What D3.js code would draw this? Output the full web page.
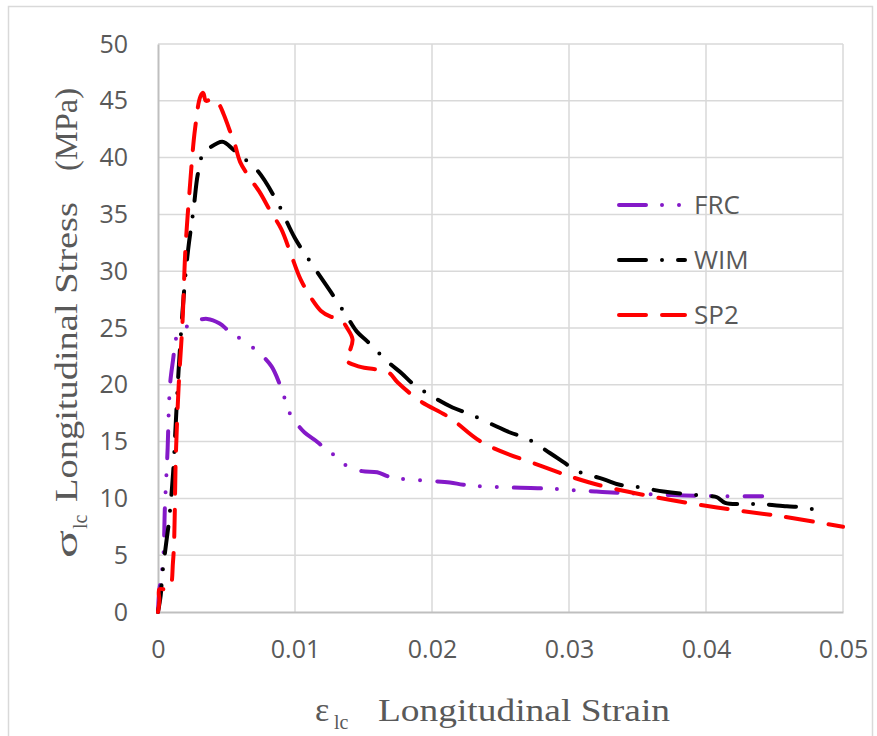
<!DOCTYPE html>
<html>
<head>
<meta charset="utf-8">
<script src="https://cdn.jsdelivr.net/npm/d3@7"></script>
<style>
  body { margin: 0; background: #fff; }
  svg { display: block; }
</style>
</head>
<body>
<div id="chart"></div>
<script>
// values (strain, stress in MPa)
const frcStrain = [0, 0.0001, 0.0002, 0.0004, 0.0005, 0.0007, 0.0008, 0.0009, 0.0011, 0.0013, 0.0015, 0.0022, 0.0027, 0.0036, 0.0045, 0.0052, 0.0062, 0.0074, 0.0083, 0.0089, 0.0092, 0.0094, 0.01, 0.0107, 0.0115, 0.012, 0.0127, 0.0131, 0.014, 0.0149, 0.016, 0.0169, 0.018, 0.0213, 0.0223, 0.0247, 0.0277, 0.0294, 0.0306, 0.032, 0.0335, 0.0374, 0.0408, 0.042, 0.0441];
const frcStress = [0, 2.0, 2.7, 5.1, 9.1, 14.3, 18.2, 20.3, 22.2, 24.0, 24.6, 25.2, 25.6, 25.8, 25.4, 24.7, 23.9, 22.8, 21.6, 20.0, 19.0, 18.0, 16.8, 15.8, 15.1, 14.6, 14.0, 13.3, 12.8, 12.4, 12.3, 11.9, 11.7, 11.4, 11.2, 11.0, 10.9, 10.8, 10.7, 10.6, 10.5, 10.3, 10.2, 10.2, 10.2];

const wimStrain = [0, 0.0002, 0.0003, 0.0006, 0.0008, 0.0011, 0.0013, 0.0015, 0.0019, 0.0022, 0.0026, 0.0029, 0.0033, 0.0037, 0.0047, 0.0055, 0.0062, 0.0073, 0.0087, 0.01, 0.0113, 0.0126, 0.0138, 0.0145, 0.0153, 0.0168, 0.0178, 0.0186, 0.0204, 0.0215, 0.0228, 0.0246, 0.0257, 0.0269, 0.0286, 0.0296, 0.0306, 0.0325, 0.0337, 0.035, 0.0369, 0.0383, 0.0403, 0.0408, 0.0414, 0.0427, 0.044, 0.0459, 0.0472, 0.0482];
const wimStress = [0, 1.5, 3.1, 6.1, 8.0, 12.2, 16.7, 21.2, 28.2, 31.9, 35.5, 38.5, 40.4, 40.8, 41.4, 40.7, 40.0, 38.8, 36.1, 32.9, 30.5, 28.2, 26.0, 24.7, 23.8, 22.0, 21.0, 20.1, 18.7, 18.0, 17.4, 16.4, 15.8, 15.3, 14.0, 13.2, 12.4, 11.7, 11.2, 11.0, 10.6, 10.4, 10.2, 10.1, 9.6, 9.5, 9.5, 9.3, 9.2, 8.9];

const sp2Strain = [0, 0.0001, 0.0001, 0.0008, 0.0011, 0.0013, 0.0015, 0.0018, 0.002, 0.0023, 0.0027, 0.0031, 0.0033, 0.0035, 0.004, 0.0044, 0.0048, 0.0052, 0.0056, 0.006, 0.0067, 0.0074, 0.0082, 0.009, 0.0097, 0.0104, 0.0112, 0.0119, 0.0126, 0.0133, 0.0138, 0.0142, 0.014, 0.0137, 0.0147, 0.0168, 0.0175, 0.0191, 0.0213, 0.0237, 0.0281, 0.0315, 0.0359, 0.0408, 0.0456, 0.05];
const sp2Stress = [0, 1.0, 2.0, 2.0, 4.5, 13.7, 19.7, 25.8, 31.9, 37.0, 42.5, 45.4, 45.7, 45.0, 45.2, 44.8, 43.8, 42.5, 41.2, 39.6, 38.2, 37.0, 35.3, 33.7, 31.5, 29.3, 27.6, 26.5, 26.0, 25.8, 25.0, 24.0, 23.0, 22.2, 21.6, 21.1, 20.2, 18.6, 17.1, 14.9, 12.8, 11.4, 10.2, 9.2, 8.4, 7.5];

const seriesNames = ["FRC", "WIM", "SP2"];
const xTicks = [0, 0.01, 0.02, 0.03, 0.04, 0.05];
const yTicks = [0, 5, 10, 15, 20, 25, 30, 35, 40, 45, 50];

const W = 877, H = 736;
const plot = { left: 158, right: 843, top: 44, bottom: 612 };

const svg = d3.select("#chart").append("svg")
    .attr("width", W)
    .attr("height", H);

// chart area border
svg.append("rect")
    .attr("x", 8.5).attr("y", 6.5)
    .attr("width", 864).attr("height", 740)
    .attr("fill", "none").attr("stroke", "#d9d9d9").attr("stroke-width", 1.5);

const x = d3.scaleLinear().domain([0, 0.05]).range([plot.left, plot.right]);
const y = d3.scaleLinear().domain([0, 50]).range([plot.bottom, plot.top]);

// gridlines
svg.append("g").selectAll("line.hg")
    .data(yTicks.filter(d => d > 0)).enter().append("line")
    .attr("x1", plot.left).attr("x2", plot.right)
    .attr("y1", d => y(d)).attr("y2", d => y(d))
    .attr("stroke", "#d9d9d9").attr("stroke-width", 1.5);

svg.append("g").selectAll("line.vg")
    .data(xTicks.filter(d => d > 0)).enter().append("line")
    .attr("x1", d => x(d)).attr("x2", d => x(d))
    .attr("y1", plot.top).attr("y2", plot.bottom)
    .attr("stroke", "#d9d9d9").attr("stroke-width", 1.5);

// axes (Excel style: no ticks, grey axis line)
const xAxis = svg.append("g")
    .attr("transform", `translate(0,${plot.bottom})`)
    .call(d3.axisBottom(x).tickValues(xTicks).tickSize(0).tickPadding(28)
        .tickFormat(d => d === 0 ? "0" : d3.format(".2f")(d)));
const yAxis = svg.append("g")
    .attr("transform", `translate(${plot.left},0)`)
    .call(d3.axisLeft(y).tickValues(yTicks).tickSize(0).tickPadding(30));

[xAxis, yAxis].forEach(g => {
    g.select(".domain").attr("stroke", "#bfbfbf").attr("stroke-width", 2);
    g.selectAll("text")
        .style("font-family", "'Open Sans', sans-serif")
        .style("font-size", "25px")
        .attr("fill", "#595959");
});

// series
const series = [
    { name: seriesNames[0], strain: frcStrain, stress: frcStress, color: "#8419c8", dash: "27,16,0,17,0,17" },
    { name: seriesNames[1], strain: wimStrain, stress: wimStress, color: "#000000", dash: "27,16,0,16" },
    { name: seriesNames[2], strain: sp2Strain, stress: sp2Stress, color: "#ff0000", dash: "27,16" }
];

const line = d3.line()
    .x(d => x(d[0]))
    .y(d => y(d[1]))
    .curve(d3.curveCatmullRom.alpha(0.5));

svg.append("g").selectAll("path.series")
    .data(series).enter().append("path")
    .attr("d", s => line(s.strain.map((v, i) => [v, s.stress[i]])))
    .attr("fill", "none")
    .attr("stroke", s => s.color)
    .attr("stroke-width", 4)
    .attr("stroke-dasharray", s => s.dash)
    .attr("stroke-linecap", "round")
    .attr("stroke-linejoin", "round");

// legend
const legendY = d3.scalePoint().domain(seriesNames).range([205, 315]);
const legend = svg.append("g").selectAll("g")
    .data(series).enter().append("g")
    .attr("transform", s => `translate(619,${legendY(s.name)})`);

legend.append("line")
    .attr("x1", 0).attr("x2", 66)
    .attr("stroke", s => s.color)
    .attr("stroke-width", 4)
    .attr("stroke-dasharray", s => s.dash)
    .attr("stroke-linecap", "round");

legend.append("text")
    .attr("x", 75).attr("y", 9)
    .style("font-family", "'Open Sans', sans-serif")
    .style("font-size", "26px")
    .attr("fill", "#595959")
    .text(s => s.name);

// axis titles (serif)
const serif = "'Liberation Serif', 'Times New Roman', serif";

const xt = svg.append("g").attr("fill", "#595959").style("font-family", serif);
xt.append("text").attr("x", 315).attr("y", 721).style("font-size", "34px").text("ε");
xt.append("text").attr("x", 334).attr("y", 729).style("font-size", "20px").text("lc");
xt.append("text").attr("x", 378).attr("y", 721).style("font-size", "32px")
    .attr("textLength", 292).attr("lengthAdjust", "spacingAndGlyphs")
    .text("Longitudinal Strain");

const yt = svg.append("g").attr("fill", "#595959").style("font-family", serif)
    .attr("transform", "translate(77,0) rotate(-90)");
yt.append("text").attr("x", -558).attr("y", 0).style("font-size", "32px")
    .attr("textLength", 28).attr("lengthAdjust", "spacingAndGlyphs").text("σ");
yt.append("text").attr("x", -529).attr("y", 10).style("font-size", "20px").text("lc");
yt.append("text").attr("x", -502).attr("y", 0).style("font-size", "32px")
    .attr("textLength", 300).attr("lengthAdjust", "spacingAndGlyphs")
    .text("Longitudinal Stress");
yt.append("text").attr("x", -171).attr("y", 0).style("font-size", "32px")
    .attr("textLength", 83).attr("lengthAdjust", "spacingAndGlyphs")
    .text("(MPa)");
</script>
</body>
</html>
